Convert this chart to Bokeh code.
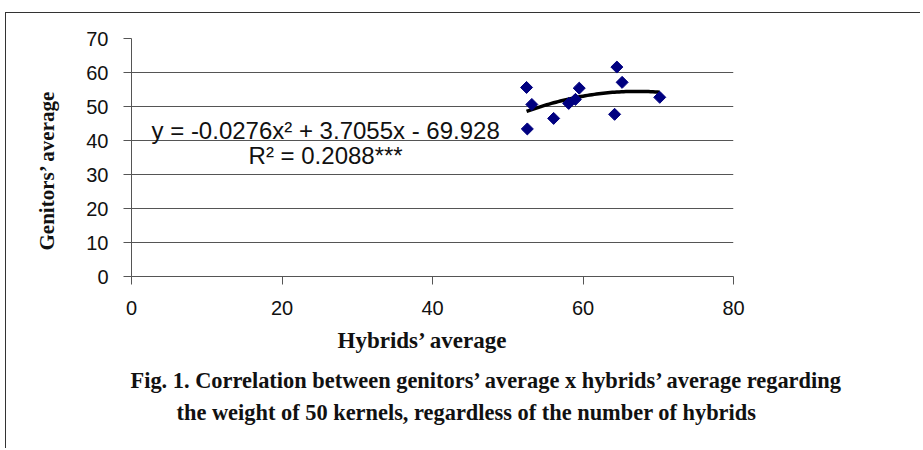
import numpy as np
from bokeh.plotting import figure
from bokeh.models import Range1d, FixedTicker, Label, Title
from bokeh.embed import file_html
from bokeh.resources import INLINE

# Data
hybrids_avg = [52.5, 53.2, 52.6, 56.1, 58.1, 59.0, 59.5, 64.2, 64.5, 65.2, 70.2]
genitors_avg = [55.6, 50.6, 43.4, 46.5, 50.9, 52.1, 55.4, 47.7, 61.6, 57.1, 52.7]

# Trendline coefficients (as printed on the chart)
coef_a, coef_b, coef_c = -0.0276, 3.7055, -69.928
eq_text = "y = -0.0276x² + 3.7055x - 69.928"
r2_text = "R² = 0.2088***"

x_ticks = [0, 20, 40, 60, 80]
y_ticks = [0, 10, 20, 30, 40, 50, 60, 70]
grid_ticks = [10, 20, 30, 40, 50, 60]

x_title = "Hybrids’ average"
y_title = "Genitors’ average"
caption_1 = "Fig. 1. Correlation between genitors’ average x hybrids’ average regarding"
caption_2 = "the weight of 50 kernels, regardless of the number of hybrids"

p = figure(width=915, height=436, output_backend="svg", toolbar_location=None,
           x_range=Range1d(0, 80), y_range=Range1d(0, 70),
           min_border_left=125, min_border_right=188,
           min_border_top=25, min_border_bottom=173)
p.styles = {"border-left": "1px solid #333333", "border-top": "1px solid #333333",
            "margin-left": "5px", "margin-top": "12px"}
p.outline_line_color = None
p.background_fill_color = "white"
p.border_fill_color = "white"

axis_col = "#555555"
for ax in (p.xaxis[0], p.yaxis[0]):
    ax.axis_line_color = axis_col
    ax.major_tick_line_color = axis_col
    ax.major_tick_out = 8
    ax.major_tick_in = 0
    ax.minor_tick_line_color = None
    ax.major_label_text_font = "Liberation Sans"
    ax.major_label_text_font_size = "20px"
    ax.major_label_text_color = "#111111"

p.xaxis.ticker = FixedTicker(ticks=x_ticks)
p.yaxis.ticker = FixedTicker(ticks=y_ticks)
p.xaxis.major_label_standoff = 16
p.yaxis.major_label_standoff = 15

p.xgrid.grid_line_color = None
p.ygrid.ticker = FixedTicker(ticks=grid_ticks)
p.ygrid.grid_line_color = axis_col
p.ygrid.grid_line_width = 1

# Trendline
xs = np.linspace(min(hybrids_avg), max(hybrids_avg), 60)
ys = coef_a * xs ** 2 + coef_b * xs + coef_c
p.line(xs, ys, line_color="black", line_width=3.5)

# Points
p.scatter(hybrids_avg, genitors_avg, marker="square", angle=np.pi / 4, size=8.5,
          fill_color="#000080", line_color="#000080")

# Equation labels
p.add_layout(Label(x=25.8, y=42.9, text=eq_text, text_align="center", text_baseline="alphabetic",
                   text_font="Liberation Sans", text_font_size="24px", text_color="#111111"))
p.add_layout(Label(x=25.8, y=35.5, text=r2_text, text_align="center", text_baseline="alphabetic",
                   text_font="Liberation Sans", text_font_size="24px", text_color="#111111"))

# Axis titles and caption
serif = dict(text_font="Liberation Serif", text_font_style="bold", text_color="#111111")
ty = Title(text=y_title, align="left", offset=26, standoff=50, text_font_size="21px", **serif)
p.add_layout(ty, "left")
tx = Title(text=x_title, align="left", offset=206, standoff=16, text_font_size="23px", **serif)
t1 = Title(text=caption_1, align="left", offset=-1, standoff=10, text_font_size="22.4px", **serif)
t2 = Title(text=caption_2, align="left", offset=45, standoff=0, text_font_size="22.4px", **serif)
p.add_layout(tx, "below")
p.add_layout(t1, "below")
p.add_layout(t2, "below")

open("out.html", "w").write(file_html(p, INLINE))
